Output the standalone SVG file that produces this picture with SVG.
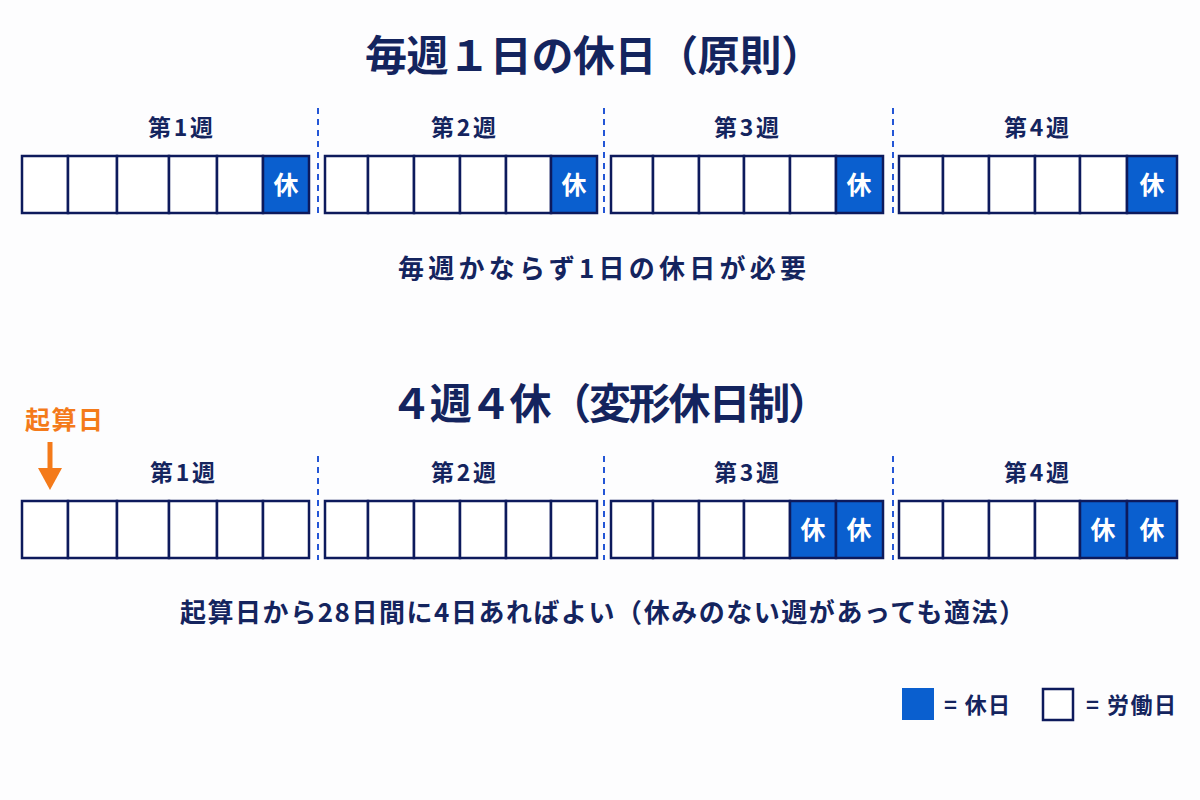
<svg xmlns="http://www.w3.org/2000/svg" width="1200" height="800" viewBox="0 0 1200 800">
<style>
text{font-family:"Noto Sans CJK JP","Noto Sans",sans-serif;font-weight:bold;fill:#14245e}
.title{font-size:42px}
.wk{font-size:23px}
.sub{font-size:26px}
.cell{fill:#fff;stroke:#0d1a5c;stroke-width:2.5}
.off{fill:#0a5fcf;stroke:#0d1a5c;stroke-width:2.5}
.offt{fill:#fff;font-size:25px}
.sep{stroke:#2456d6;stroke-width:2;stroke-dasharray:6,5}
.lg{font-size:22px}
</style>
<rect width="1200" height="800" fill="#fdfdfe"/>
<g id="title1"><text class="title" x="365" y="71" textLength="458" lengthAdjust="spacing">毎週１日の休日（原則）</text></g>
<g id="row1">
<text class="wk" x="148" y="136" textLength="65" lengthAdjust="spacing">第1週</text>
<text class="wk" x="431" y="136" textLength="65" lengthAdjust="spacing">第2週</text>
<text class="wk" x="714" y="136" textLength="65" lengthAdjust="spacing">第3週</text>
<text class="wk" x="1004" y="136" textLength="65" lengthAdjust="spacing">第4週</text>
<rect class="cell" x="22" y="156" width="46" height="57"/><rect class="cell" x="68" y="156" width="49" height="57"/><rect class="cell" x="117" y="156" width="52" height="57"/><rect class="cell" x="169" y="156" width="48" height="57"/><rect class="cell" x="217" y="156" width="46" height="57"/><rect class="off" x="263" y="156" width="46" height="57"/><text class="offt" x="286" y="194" text-anchor="middle">休</text>
<rect class="cell" x="325" y="156" width="43" height="57"/><rect class="cell" x="368" y="156" width="46" height="57"/><rect class="cell" x="414" y="156" width="46" height="57"/><rect class="cell" x="460" y="156" width="46" height="57"/><rect class="cell" x="506" y="156" width="45" height="57"/><rect class="off" x="551" y="156" width="46" height="57"/><text class="offt" x="574" y="194" text-anchor="middle">休</text>
<rect class="cell" x="611" y="156" width="42" height="57"/><rect class="cell" x="653" y="156" width="46" height="57"/><rect class="cell" x="699" y="156" width="45" height="57"/><rect class="cell" x="744" y="156" width="46" height="57"/><rect class="cell" x="790" y="156" width="46" height="57"/><rect class="off" x="836" y="156" width="47" height="57"/><text class="offt" x="859" y="194" text-anchor="middle">休</text>
<rect class="cell" x="899" y="156" width="44" height="57"/><rect class="cell" x="943" y="156" width="46" height="57"/><rect class="cell" x="989" y="156" width="46" height="57"/><rect class="cell" x="1035" y="156" width="45" height="57"/><rect class="cell" x="1080" y="156" width="47" height="57"/><rect class="off" x="1127" y="156" width="50" height="57"/><text class="offt" x="1152" y="194" text-anchor="middle">休</text>
</g>
<g id="sub1"><text class="sub" x="398" y="278" textLength="408" lengthAdjust="spacing">毎週かならず1日の休日が必要</text></g>
<g id="title2"><text class="title" x="390" y="419" textLength="440" lengthAdjust="spacing">４週４休（変形休日制）</text></g>
<g id="kisanbi"><text x="25" y="429" textLength="78" lengthAdjust="spacing" style="fill:#f47a1a;font-size:25px">起算日</text></g>
<g id="row2">
<text class="wk" x="150" y="481" textLength="65" lengthAdjust="spacing">第1週</text>
<text class="wk" x="431" y="481" textLength="65" lengthAdjust="spacing">第2週</text>
<text class="wk" x="714" y="481" textLength="65" lengthAdjust="spacing">第3週</text>
<text class="wk" x="1004" y="481" textLength="65" lengthAdjust="spacing">第4週</text>
<rect class="cell" x="22" y="501" width="46" height="57"/><rect class="cell" x="68" y="501" width="49" height="57"/><rect class="cell" x="117" y="501" width="52" height="57"/><rect class="cell" x="169" y="501" width="48" height="57"/><rect class="cell" x="217" y="501" width="46" height="57"/><rect class="cell" x="263" y="501" width="46" height="57"/>
<rect class="cell" x="325" y="501" width="43" height="57"/><rect class="cell" x="368" y="501" width="46" height="57"/><rect class="cell" x="414" y="501" width="46" height="57"/><rect class="cell" x="460" y="501" width="46" height="57"/><rect class="cell" x="506" y="501" width="45" height="57"/><rect class="cell" x="551" y="501" width="46" height="57"/>
<rect class="cell" x="611" y="501" width="42" height="57"/><rect class="cell" x="653" y="501" width="46" height="57"/><rect class="cell" x="699" y="501" width="45" height="57"/><rect class="cell" x="744" y="501" width="46" height="57"/><rect class="off" x="790" y="501" width="46" height="57"/><text class="offt" x="813" y="539" text-anchor="middle">休</text><rect class="off" x="836" y="501" width="47" height="57"/><text class="offt" x="859" y="539" text-anchor="middle">休</text>
<rect class="cell" x="899" y="501" width="44" height="57"/><rect class="cell" x="943" y="501" width="46" height="57"/><rect class="cell" x="989" y="501" width="46" height="57"/><rect class="cell" x="1035" y="501" width="45" height="57"/><rect class="off" x="1080" y="501" width="47" height="57"/><text class="offt" x="1103" y="539" text-anchor="middle">休</text><rect class="off" x="1127" y="501" width="50" height="57"/><text class="offt" x="1152" y="539" text-anchor="middle">休</text>
</g>
<g id="connectors">
<line class="sep" x1="318" y1="108" x2="318" y2="214"/>
<line class="sep" x1="604" y1="108" x2="604" y2="214"/>
<line class="sep" x1="893" y1="108" x2="893" y2="214"/>
<line class="sep" x1="318" y1="456" x2="318" y2="560"/>
<line class="sep" x1="604" y1="456" x2="604" y2="560"/>
<line class="sep" x1="893" y1="456" x2="893" y2="560"/>
<line x1="50" y1="442" x2="50" y2="472" stroke="#f47a1a" stroke-width="5"/>
<polygon points="38,468 62,468 50,490" fill="#f47a1a"/>
</g>
<g id="sub2"><text class="sub" x="180" y="622" textLength="845" lengthAdjust="spacing">起算日から28日間に4日あればよい（休みのない週があっても適法）</text></g>
<g id="legend">
<rect x="902" y="688" width="32" height="32" fill="#0a5fcf"/>
<text class="lg" x="944" y="713" textLength="66" lengthAdjust="spacing">= 休日</text>
<rect x="1043" y="689" width="30" height="31" fill="#fff" stroke="#0d1a5c" stroke-width="2.5"/>
<text class="lg" x="1086" y="713" textLength="90" lengthAdjust="spacing">= 労働日</text>
</g>
</svg>
